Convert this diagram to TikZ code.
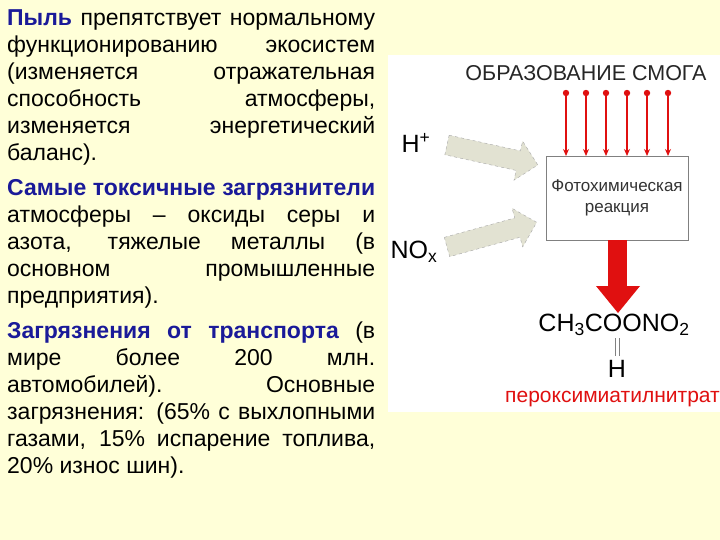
\documentclass[tikz,border=0pt]{standalone}
\usepackage{fontspec}
\setmainfont{Liberation Sans}
\usetikzlibrary{arrows.meta}
\definecolor{bg}{HTML}{FFFFD8}
\definecolor{hl}{HTML}{1A1A99}
\definecolor{rd}{HTML}{E01010}
\definecolor{garr}{HTML}{E2E2D2}
\newcommand{\hb}[1]{\textbf{\color{hl}#1}}
\tikzset{ray/.style={rd,line width=1.2pt,-{Stealth[length=7pt,width=6pt]}},
 gray arrow/.style={draw=gray!70,dashed,fill=garr},
 big/.style={font=\fontsize{25}{27}\selectfont}}
\begin{document}
\begin{tikzpicture}[x=1pt,y=-1pt]
\fill[bg] (0,0) rectangle (720,540);
\useasboundingbox (0,0) rectangle (720,540);
\fill[white] (388,55) rectangle (720,412);
\node[anchor=north west,inner sep=0pt,text width=368pt,align=justify,font=\fontsize{23}{27}\selectfont] (txt) at (7,9) {%
\hb{Пыль} препятствует нормальному\linebreak функционированию экосистем\linebreak (изменяется отражательная\linebreak способность атмосферы,\linebreak изменяется энергетический\linebreak баланс).\par\vspace{8pt}
\hb{Самые токсичные загрязнители}\linebreak атмосферы – оксиды серы и\linebreak азота, тяжелые металлы (в\linebreak основном промышленные\linebreak предприятия).\par\vspace{8pt}
\hb{Загрязнения от транспорта} (в\linebreak мире более 200 млн.\linebreak автомобилей). Основные\linebreak загрязнения: (65\% с выхлопными\linebreak газами, 15\% испарение топлива,\linebreak 20\% износ шин).\par};
\node[font=\fontsize{21.5}{23}\selectfont,color=black!85] (title) at (586,73) {ОБРАЗОВАНИЕ СМОГА};
\node[draw=gray,minimum width=142pt,minimum height=84pt,align=center,font=\fontsize{17}{21}\selectfont,text=black!80] (box) at (617,198) {Фотохимическая\\реакция};
\foreach \i/\xx in {1/566,2/586,3/606,4/627,5/647,6/668}{
 \fill[rd] (\xx,93) circle (3.2pt);
 \coordinate (s\i) at (\xx,93);
 \draw[ray] (s\i) -- (\xx,156);}
\node[big] (hp) at (416,143) {H\textsuperscript{+}};
\node[big] (nox) at (414,252) {NO\textsubscript{x}};
\begin{scope}[shift={(447,145)},rotate=-12.4]
\draw[gray arrow] (0,-10) -- (73,-10) -- (73,-20) -- (93,0) -- (73,20) -- (73,10) -- (0,10) -- cycle;
\end{scope}
\begin{scope}[shift={(447,247)},rotate=15.4]
\draw[gray arrow] (0,-10) -- (73,-10) -- (73,-20) -- (93,0) -- (73,20) -- (73,10) -- (0,10) -- cycle;
\end{scope}
\draw[rd,line width=19pt] (617.5,240) -- (617.5,288);
\fill[rd] (596,286) -- (640,286) -- (618,313) -- cycle;
\node[big] (prod) at (614,325) {CH\textsubscript{3}COONO\textsubscript{2}};
\node[big] (h) at (617,369) {H};
\draw[gray] (615,338) -- (615,356) (619.5,338) -- (619.5,356);
\node[anchor=west,rd,font=\fontsize{21}{23}\selectfont,inner sep=0pt] (name) at (505,399) {пероксимиатилнитрат};
\end{tikzpicture}
\end{document}
